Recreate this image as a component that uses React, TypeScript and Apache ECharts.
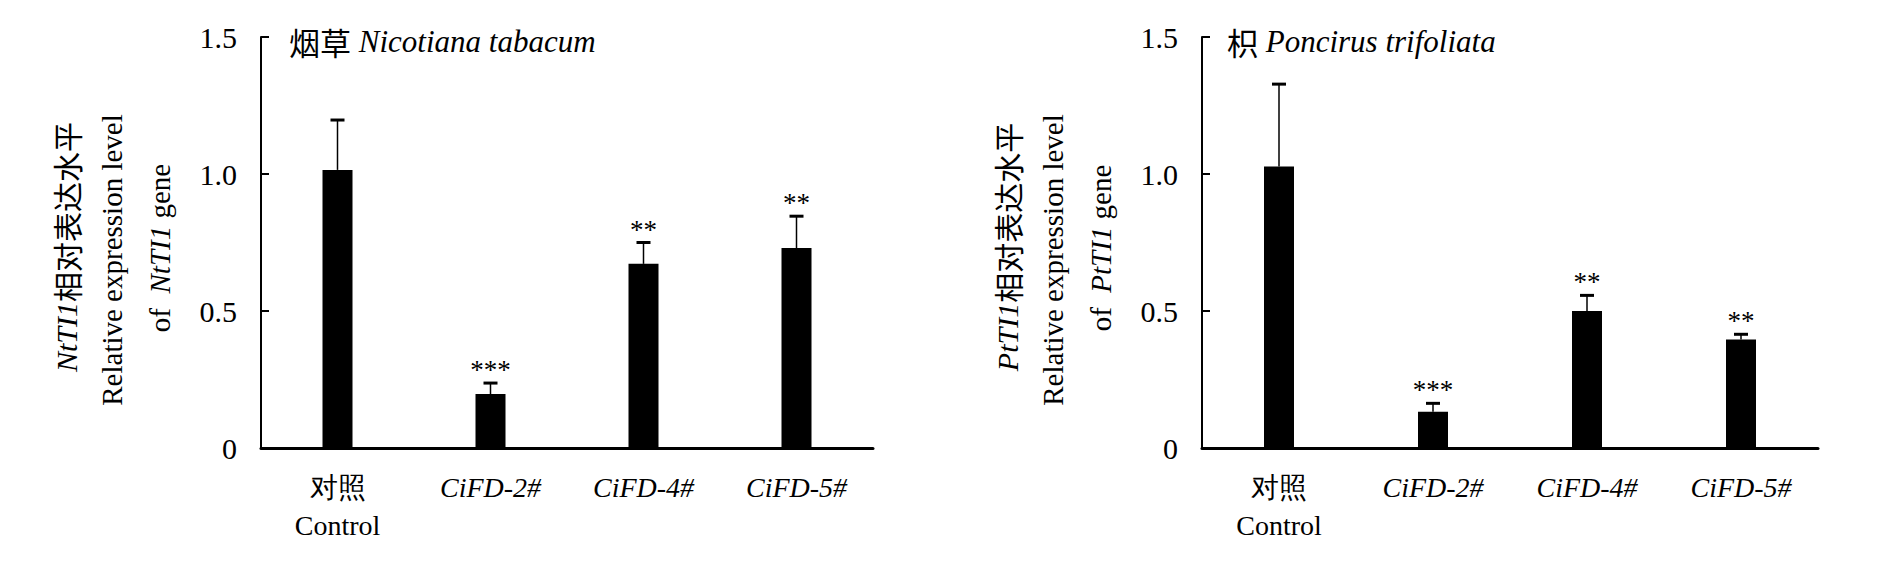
import React, { useEffect, useRef } from "react";
import * as echarts from "echarts";

const categories = ["对照", "CiFD-2#", "CiFD-4#", "CiFD-5#"];
const controlSubLabel = "Control";
const tobaccoValues = [1.015, 0.197, 0.672, 0.73];
const tobaccoErrors = [0.182, 0.04, 0.078, 0.116];
const citrusValues = [1.027, 0.132, 0.5, 0.396];
const citrusErrors = [0.301, 0.031, 0.057, 0.019];
const stars = ["", "***", "**", "**"];
const yTicks = { min: 0, max: 1.5, interval: 0.5 };

const SERIF = "Liberation Serif";
const CJK = "Noto Sans CJK SC";

type Piece = { text: string; italic?: boolean; cjk?: boolean };

export default function App() {
  const ref = useRef<HTMLDivElement>(null);
  useEffect(() => {
    if (!ref.current) return;
    const chart = echarts.init(ref.current, null, { renderer: "svg" });
    const ctx = document.createElement("canvas").getContext("2d") as CanvasRenderingContext2D;
    const fontOf = (p: Piece, size: number) =>
      (p.italic ? "italic " : "") + size + "px " + (p.cjk ? '"' + CJK + '"' : '"' + SERIF + '"');
    const measure = (p: Piece, size: number) => {
      ctx.font = fontOf(p, size);
      return ctx.measureText(p.text).width;
    };
    const textEl = (p: Piece, size: number, x: number, y: number, extra: any) => {
      const style: any = {
        text: p.text,
        fill: "#000",
        fontFamily: p.cjk ? CJK : SERIF,
        fontSize: size,
        align: "left",
        verticalAlign: "middle",
      };
      if (p.italic) style.fontStyle = "italic";
      return { type: "text", x, y, ...extra, style };
    };
    const hRun = (pieces: Piece[], size: number, x: number, y: number) => {
      let cx = x;
      return pieces.map((p) => {
        const el = textEl(p, size, cx, y, {});
        cx += measure(p, size);
        return el;
      });
    };
    const vRun = (pieces: Piece[], size: number, x: number, cy: number) => {
      const total = pieces.reduce((s, p) => s + measure(p, size), 0);
      let y = cy + total / 2;
      return pieces.map((p) => {
        const el = textEl(p, size, x, y, { rotation: Math.PI / 2 });
        y -= measure(p, size);
        return el;
      });
    };

    const gridLefts = [261, 1202];
    const gridWidths = [612, 616];
    const top = 37;
    const height = 411;

    const xAxis = [0, 1].map((i) => ({
      type: "category",
      gridIndex: i,
      data: categories.map((c, k) => (k === 0 ? { value: c } : { value: c, textStyle: { fontStyle: "italic" } })),
      axisLine: { lineStyle: { color: "#000", width: 3 } },
      axisTick: { alignWithLabel: true, inside: false, length: 8, lineStyle: { color: "#000", width: 1.5 } },
      axisLabel: {
        interval: 0,
        margin: 20,
        color: "#000",
        fontFamily: SERIF,
        fontSize: 28,
        lineHeight: 38,
        formatter: (v: string, idx: number) => (idx === 0 ? v + "\n" + controlSubLabel : v),
      },
    }));

    const yAxis = [0, 1].map((i) => ({
      type: "value",
      gridIndex: i,
      min: yTicks.min,
      max: yTicks.max,
      interval: yTicks.interval,
      splitLine: { show: false },
      axisLine: { show: true, lineStyle: { color: "#000", width: 2 } },
      axisTick: { show: true, inside: true, length: 8, lineStyle: { color: "#000", width: 2 } },
      axisLabel: {
        margin: 24,
        color: "#000",
        fontFamily: SERIF,
        fontSize: 30,
        formatter: (v: number) => (v === 0 ? "0" : v.toFixed(1)),
      },
    }));

    const errRender = (params: any, api: any) => {
      const idx = api.value(0);
      const v = api.value(1);
      const e = api.value(2);
      const base = api.coord([idx, v]);
      const topPt = api.coord([idx, v + e]);
      const s = stars[params.dataIndex];
      const children: any[] = [
        { type: "line", shape: { x1: base[0], y1: base[1], x2: base[0], y2: topPt[1] }, style: { stroke: "#000", lineWidth: 1.5 } },
        { type: "line", shape: { x1: base[0] - 7, y1: topPt[1], x2: base[0] + 7, y2: topPt[1] }, style: { stroke: "#000", lineWidth: 3 } },
      ];
      if (s) {
        children.push({
          type: "text",
          x: base[0],
          y: topPt[1] - 13,
          style: { text: s, fill: "#000", fontFamily: SERIF, fontSize: 27, align: "center", verticalAlign: "middle" },
        });
      }
      return { type: "group", children };
    };

    const barSeries = (i: number, vals: number[]) => ({
      type: "bar",
      xAxisIndex: i,
      yAxisIndex: i,
      data: vals,
      barWidth: 30,
      itemStyle: { color: "#000" },
      z: 2,
    });
    const errSeries = (i: number, vals: number[], errs: number[]) => ({
      type: "custom",
      xAxisIndex: i,
      yAxisIndex: i,
      data: vals.map((v, k) => [k, v, errs[k]]),
      encode: { x: 0, y: 1 },
      renderItem: errRender,
      z: 3,
    });

    const yNames = (axisX: number, gene: string) => [
      ...vRun([{ text: gene, italic: true }, { text: "相对表达水平", cjk: true }], 30, axisX - 195, 247),
      ...vRun([{ text: "Relative expression level" }], 29, axisX - 149, 260),
      ...vRun([{ text: "of  " }, { text: gene, italic: true }, { text: " gene" }], 29, axisX - 101, 248),
    ];

    chart.setOption({
      animation: false,
      backgroundColor: "#fff",
      grid: [0, 1].map((i) => ({ left: gridLefts[i], top, width: gridWidths[i], height, containLabel: false })),
      xAxis,
      yAxis,
      series: [
        barSeries(0, tobaccoValues),
        errSeries(0, tobaccoValues, tobaccoErrors),
        barSeries(1, citrusValues),
        errSeries(1, citrusValues, citrusErrors),
      ],
      graphic: [
        ...hRun([{ text: "烟草", cjk: true }, { text: " Nicotiana tabacum", italic: true }], 31, 289, 41),
        ...hRun([{ text: "枳", cjk: true }, { text: " Poncirus trifoliata", italic: true }], 31, 1227, 41),
        ...yNames(gridLefts[0], "NtTI1"),
        ...yNames(gridLefts[1], "PtTI1"),
      ],
    });
    return () => chart.dispose();
  }, []);
  return <div ref={ref} style={{ position: "absolute", left: 0, top: 0, width: 1890, height: 564 }} />;
}
